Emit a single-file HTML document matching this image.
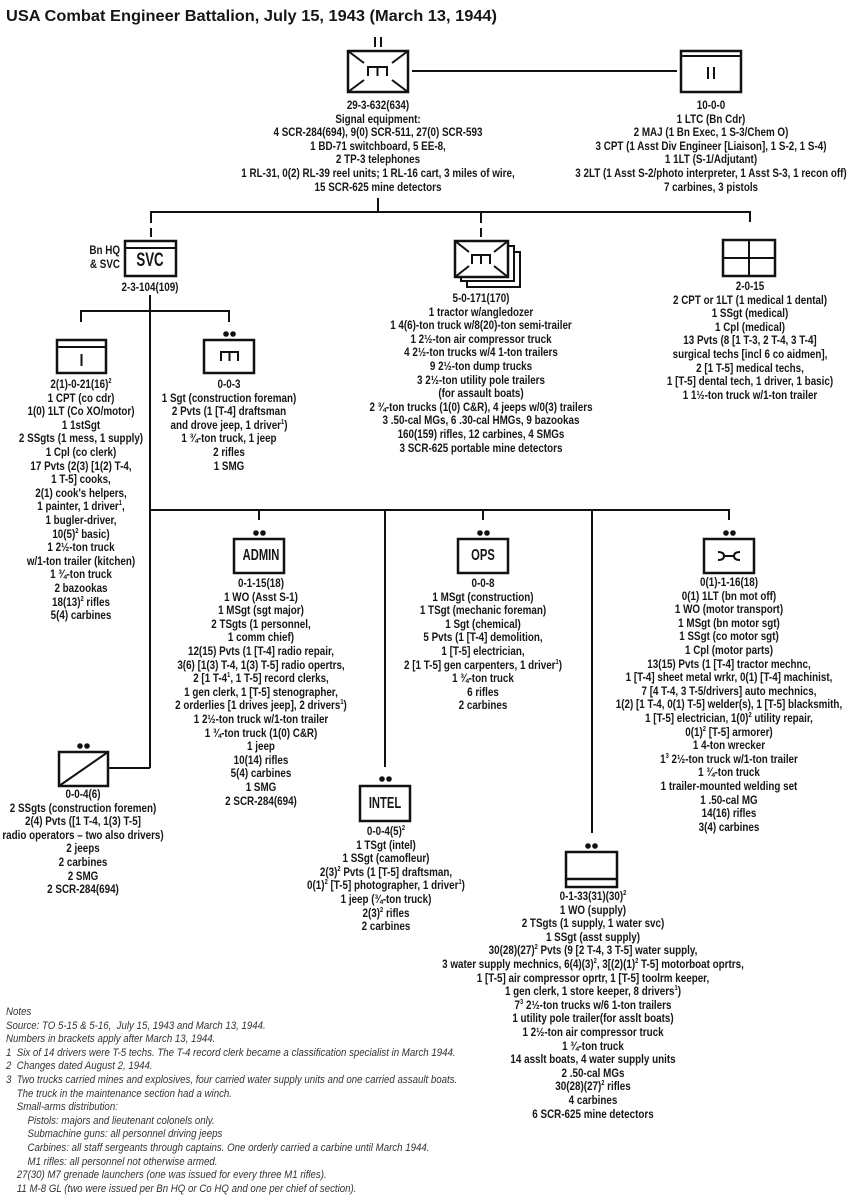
<!DOCTYPE html>
<html><head><meta charset="utf-8">
<style>
html,body{margin:0;padding:0;background:#fff;}
body{width:853px;height:1200px;position:relative;overflow:hidden;font-family:"Liberation Sans",sans-serif;color:#161616;}
.t{position:absolute;width:400px;text-align:center;font-weight:bold;font-size:12px;line-height:13.6px;transform:scaleX(0.82);transform-origin:200px 0;white-space:nowrap;}
.t sup{font-size:7px;line-height:0;vertical-align:5px;}
.n{position:absolute;left:6px;top:1006px;font-style:italic;font-size:11px;line-height:13.6px;color:#333;transform:scaleX(0.88);transform-origin:0 0;white-space:nowrap;}
.n sup{font-size:7px;line-height:0;vertical-align:5px;}
svg{position:absolute;left:0;top:0;}
</style></head><body>
<svg width="853" height="1200" viewBox="0 0 853 1200">
<text x="6" y="21" font-family="Liberation Sans, sans-serif" font-weight="bold" font-size="16" textLength="491" lengthAdjust="spacingAndGlyphs" fill="#161616">USA Combat Engineer Battalion, July 15, 1943 (March 13, 1944)</text>
<g stroke="#111" stroke-width="2" fill="none">
<line x1="375" y1="37" x2="375" y2="47"/><line x1="381" y1="37" x2="381" y2="47"/>
<rect x="348" y="51" width="60" height="41" fill="#fff" stroke-width="2.5"/>
<line x1="348" y1="51" x2="364" y2="63"/><line x1="408" y1="51" x2="392" y2="63"/>
<line x1="348" y1="92" x2="364" y2="80"/><line x1="408" y1="92" x2="392" y2="80"/>
<path d="M368 76 V67 H387 V76 M377.5 67 V76"/>
<line x1="412" y1="71" x2="677" y2="71"/>
<rect x="681" y="51" width="60" height="41" stroke-width="2.5"/>
<line x1="681" y1="56" x2="741" y2="56"/>
<line x1="708" y1="67" x2="708" y2="79"/><line x1="714" y1="67" x2="714" y2="79"/>
<line x1="378" y1="198" x2="378" y2="212"/>
<line x1="150" y1="212" x2="751" y2="212"/>
<line x1="151" y1="211" x2="151" y2="223"/><line x1="151" y1="228" x2="151" y2="237"/>
<line x1="481" y1="211" x2="481" y2="223"/><line x1="481" y1="228" x2="481" y2="237"/>
<line x1="750" y1="211" x2="750" y2="222"/>
<rect x="125" y="241" width="51" height="35" stroke-width="2.5"/>
<line x1="125" y1="248" x2="176" y2="248"/>
<rect x="467" y="252" width="53" height="35" fill="#fff"/>
<rect x="461" y="246" width="53" height="35" fill="#fff"/>
<rect x="455" y="241" width="53" height="36" fill="#fff" stroke-width="2.5"/>
<line x1="455" y1="241" x2="469" y2="252"/><line x1="508" y1="241" x2="494" y2="252"/>
<line x1="455" y1="277" x2="469" y2="266"/><line x1="508" y1="277" x2="494" y2="266"/>
<path d="M472 264 V255 H490 V264 M481 255 V264"/>
<rect x="723" y="240" width="52" height="36" stroke-width="2.5"/>
<line x1="749" y1="240" x2="749" y2="276"/><line x1="723" y1="258" x2="775" y2="258"/>
<line x1="150" y1="295" x2="150" y2="768"/>
<line x1="81" y1="311" x2="229" y2="311"/>
<line x1="81" y1="310" x2="81" y2="322"/><line x1="229" y1="310" x2="229" y2="322"/>
<rect x="57" y="340" width="49" height="33" stroke-width="2.5"/>
<line x1="57" y1="347" x2="106" y2="347"/>
<line x1="81.5" y1="354" x2="81.5" y2="366"/>
<rect x="204" y="340" width="50" height="33" stroke-width="2.5"/>
<path d="M221 361 V352 H238 V361 M229.5 352 V361"/>
<line x1="150" y1="510" x2="730" y2="510"/>
<line x1="259" y1="509" x2="259" y2="520"/>
<line x1="483" y1="509" x2="483" y2="520"/>
<line x1="729" y1="509" x2="729" y2="520"/>
<line x1="385" y1="509" x2="385" y2="767"/>
<line x1="592" y1="509" x2="592" y2="833"/>
<rect x="234" y="539" width="50" height="34" stroke-width="2.5"/>
<rect x="458" y="539" width="50" height="34" stroke-width="2.5"/>
<rect x="704" y="539" width="50" height="34" stroke-width="2.5"/>
<path d="M718 552 Q724 552 724 556 Q724 560 718 560 M740 552 Q734 552 734 556 Q734 560 740 560 M724 556 H734"/>
<line x1="108" y1="768" x2="150" y2="768"/>
<rect x="59" y="752" width="49" height="34" stroke-width="2.5"/>
<line x1="59" y1="786" x2="108" y2="752"/>
<rect x="360" y="786" width="50" height="35" stroke-width="2.5"/>
<rect x="566" y="852" width="51" height="35" stroke-width="2.5"/>
<line x1="566" y1="879" x2="617" y2="879" stroke-width="2.5"/>
</g>
<g fill="#111">
<circle cx="226" cy="334" r="2.8"/><circle cx="233" cy="334" r="2.8"/>
<circle cx="256" cy="533" r="2.8"/><circle cx="263" cy="533" r="2.8"/>
<circle cx="480" cy="533" r="2.8"/><circle cx="487" cy="533" r="2.8"/>
<circle cx="726" cy="533" r="2.8"/><circle cx="733" cy="533" r="2.8"/>
<circle cx="80" cy="746" r="2.8"/><circle cx="87" cy="746" r="2.8"/>
<circle cx="382" cy="779" r="2.8"/><circle cx="389" cy="779" r="2.8"/>
<circle cx="588" cy="846" r="2.8"/><circle cx="595" cy="846" r="2.8"/>
</g>
</svg>

<div class="t" style="left:-50px;top:251px;font-size:19px;line-height:20px;transform:scaleX(0.7);">SVC</div>
<div class="t" style="left:61px;top:549px;font-size:16px;transform:scaleX(0.7);">ADMIN</div>
<div class="t" style="left:283px;top:549px;font-size:16px;transform:scaleX(0.7);">OPS</div>
<div class="t" style="left:185px;top:797px;font-size:16px;transform:scaleX(0.7);">INTEL</div>
<div class="t" style="left:20px;width:100px;top:244px;text-align:right;transform-origin:100px 0;">Bn HQ<br>&amp; SVC</div>

<div class="t" style="left:178px;top:99px;">29-3-632(634)<br>Signal equipment:<br>4 SCR-284(694), 9(0) SCR-511, 27(0) SCR-593<br>1 BD-71 switchboard, 5 EE-8,<br>2 TP-3 telephones<br>1 RL-31, 0(2) RL-39 reel units; 1 RL-16 cart, 3 miles of wire,<br>15 SCR-625 mine detectors</div>

<div class="t" style="left:511px;top:99px;">10-0-0<br>1 LTC (Bn Cdr)<br>2 MAJ (1 Bn Exec, 1 S-3/Chem O)<br>3 CPT (1 Asst Div Engineer [Liaison], 1 S-2, 1 S-4)<br>1 1LT (S-1/Adjutant)<br>3 2LT (1 Asst S-2/photo interpreter, 1 Asst S-3, 1 recon off)<br>7 carbines, 3 pistols</div>

<div class="t" style="left:-50px;top:281px;">2-3-104(109)</div>

<div class="t" style="left:281px;top:292px;">5-0-171(170)<br>1 tractor w/angledozer<br>1 4(6)-ton truck w/8(20)-ton semi-trailer<br>1 2½-ton air compressor truck<br>4 2½-ton trucks w/4 1-ton trailers<br>9 2½-ton dump trucks<br>3 2½-ton utility pole trailers<br>(for assault boats)<br>2 ¾-ton trucks (1(0) C&amp;R), 4 jeeps w/0(3) trailers<br>3 .50-cal MGs, 6 .30-cal HMGs, 9 bazookas<br>160(159) rifles, 12 carbines, 4 SMGs<br>3 SCR-625 portable mine detectors</div>

<div class="t" style="left:550px;top:280px;">2-0-15<br>2 CPT or 1LT (1 medical 1 dental)<br>1 SSgt (medical)<br>1 Cpl (medical)<br>13 Pvts (8 [1 T-3, 2 T-4, 3 T-4]<br>surgical techs [incl 6 co aidmen],<br>2 [1 T-5] medical techs,<br>1 [T-5] dental tech, 1 driver, 1 basic)<br>1 1½-ton truck w/1-ton trailer</div>

<div class="t" style="left:-119px;top:378px;">2(1)-0-21(16)<sup>2</sup><br>1 CPT (co cdr)<br>1(0) 1LT (Co XO/motor)<br>1 1stSgt<br>2 SSgts (1 mess, 1 supply)<br>1 Cpl (co clerk)<br>17 Pvts (2(3) [1(2) T-4,<br>1 T-5] cooks,<br>2(1) cook's helpers,<br>1 painter, 1 driver<sup>1</sup>,<br>1 bugler-driver,<br>10(5)<sup>2</sup> basic)<br>1 2½-ton truck<br>w/1-ton trailer (kitchen)<br>1 ¾-ton truck<br>2 bazookas<br>18(13)<sup>2</sup> rifles<br>5(4) carbines</div>

<div class="t" style="left:29px;top:378px;">0-0-3<br>1 Sgt (construction foreman)<br>2 Pvts (1 [T-4] draftsman<br>and drove jeep, 1 driver<sup>1</sup>)<br>1 ¾-ton truck, 1 jeep<br>2 rifles<br>1 SMG</div>

<div class="t" style="left:61px;top:577px;">0-1-15(18)<br>1 WO (Asst S-1)<br>1 MSgt (sgt major)<br>2 TSgts (1 personnel,<br>1 comm chief)<br>12(15) Pvts (1 [T-4] radio repair,<br>3(6) [1(3) T-4, 1(3) T-5] radio opertrs,<br>2 [1 T-4<sup>1</sup>, 1 T-5] record clerks,<br>1 gen clerk, 1 [T-5] stenographer,<br>2 orderlies [1 drives jeep], 2 drivers<sup>1</sup>)<br>1 2½-ton truck w/1-ton trailer<br>1 ¾-ton truck (1(0) C&amp;R)<br>1 jeep<br>10(14) rifles<br>5(4) carbines<br>1 SMG<br>2 SCR-284(694)</div>

<div class="t" style="left:283px;top:577px;">0-0-8<br>1 MSgt (construction)<br>1 TSgt (mechanic foreman)<br>1 Sgt (chemical)<br>5 Pvts (1 [T-4] demolition,<br>1 [T-5] electrician,<br>2 [1 T-5] gen carpenters, 1 driver<sup>1</sup>)<br>1 ¾-ton truck<br>6 rifles<br>2 carbines</div>

<div class="t" style="left:529px;top:576px;">0(1)-1-16(18)<br>0(1) 1LT (bn mot off)<br>1 WO (motor transport)<br>1 MSgt (bn motor sgt)<br>1 SSgt (co motor sgt)<br>1 Cpl (motor parts)<br>13(15) Pvts (1 [T-4] tractor mechnc,<br>1 [T-4] sheet metal wrkr, 0(1) [T-4] machinist,<br>7 [4 T-4, 3 T-5/drivers] auto mechnics,<br>1(2) [1 T-4, 0(1) T-5] welder(s), 1 [T-5] blacksmith,<br>1 [T-5] electrician, 1(0)<sup>2</sup> utility repair,<br>0(1)<sup>2</sup> [T-5] armorer)<br>1 4-ton wrecker<br>1<sup>3</sup> 2½-ton truck w/1-ton trailer<br>1 ¾-ton truck<br>1 trailer-mounted welding set<br>1 .50-cal MG<br>14(16) rifles<br>3(4) carbines</div>

<div class="t" style="left:-117px;top:788px;">0-0-4(6)<br>2 SSgts (construction foremen)<br>2(4) Pvts ([1 T-4, 1(3) T-5]<br>radio operators – two also drivers)<br>2 jeeps<br>2 carbines<br>2 SMG<br>2 SCR-284(694)</div>

<div class="t" style="left:186px;top:825px;">0-0-4(5)<sup>2</sup><br>1 TSgt (intel)<br>1 SSgt (camofleur)<br>2(3)<sup>2</sup> Pvts (1 [T-5] draftsman,<br>0(1)<sup>2</sup> [T-5] photographer, 1 driver<sup>1</sup>)<br>1 jeep (¾-ton truck)<br>2(3)<sup>2</sup> rifles<br>2 carbines</div>

<div class="t" style="left:393px;top:890px;">0-1-33(31)(30)<sup>2</sup><br>1 WO (supply)<br>2 TSgts (1 supply, 1 water svc)<br>1 SSgt (asst supply)<br>30(28)(27)<sup>2</sup> Pvts (9 [2 T-4, 3 T-5] water supply,<br>3 water supply mechnics, 6(4)(3)<sup>2</sup>, 3[(2)(1)<sup>2</sup> T-5] motorboat oprtrs,<br>1 [T-5] air compressor oprtr, 1 [T-5] toolrm keeper,<br>1 gen clerk, 1 store keeper, 8 drivers<sup>1</sup>)<br>7<sup>3</sup> 2½-ton trucks w/6 1-ton trailers<br>1 utility pole trailer(for asslt boats)<br>1 2½-ton air compressor truck<br>1 ¾-ton truck<br>14 asslt boats, 4 water supply units<br>2 .50-cal MGs<br>30(28)(27)<sup>2</sup> rifles<br>4 carbines<br>6 SCR-625 mine detectors</div>

<div class="n">Notes<br>Source: TO 5-15 &amp; 5-16,&nbsp; July 15, 1943 and March 13, 1944.<br>Numbers in brackets apply after March 13, 1944.<br>1&nbsp; Six of 14 drivers were T-5 techs. The T-4 record clerk became a classification specialist in March 1944.<br>2&nbsp; Changes dated August 2, 1944.<br>3&nbsp; Two trucks carried mines and explosives, four carried water supply units and one carried assault boats.<br>&nbsp;&nbsp;&nbsp; The truck in the maintenance section had a winch.<br>&nbsp;&nbsp;&nbsp; Small-arms distribution:<br>&nbsp;&nbsp;&nbsp;&nbsp;&nbsp;&nbsp;&nbsp; Pistols: majors and lieutenant colonels only.<br>&nbsp;&nbsp;&nbsp;&nbsp;&nbsp;&nbsp;&nbsp; Submachine guns: all personnel driving jeeps<br>&nbsp;&nbsp;&nbsp;&nbsp;&nbsp;&nbsp;&nbsp; Carbines: all staff sergeants through captains. One orderly carried a carbine until March 1944.<br>&nbsp;&nbsp;&nbsp;&nbsp;&nbsp;&nbsp;&nbsp; M1 rifles: all personnel not otherwise armed.<br>&nbsp;&nbsp;&nbsp; 27(30) M7 grenade launchers (one was issued for every three M1 rifles).<br>&nbsp;&nbsp;&nbsp; 11 M-8 GL (two were issued per Bn HQ or Co HQ and one per chief of section).</div>
</body></html>
